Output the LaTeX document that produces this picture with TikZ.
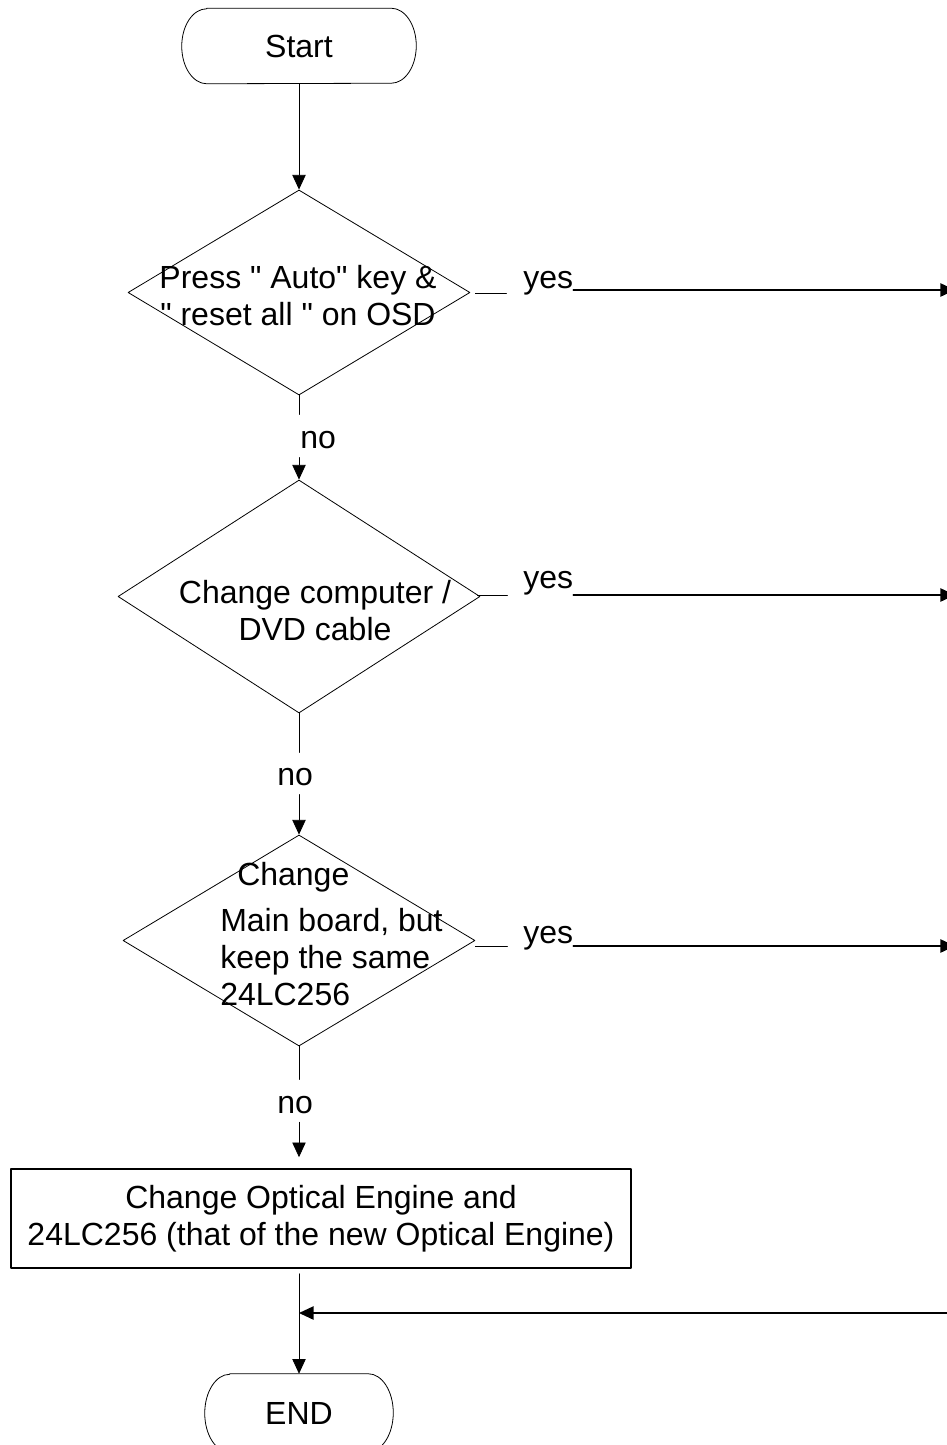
\documentclass[tikz,border=0pt]{standalone}
\usepackage{fontspec}
\newfontfamily\lsans{Liberation Sans}
\usetikzlibrary{shapes.geometric,arrows.meta}
% vien bo tron hai dau (dang elip)
\newcommand\capsule[2]{\draw[line width=.6pt] ([xshift=18.75pt]#1.north west) -- ([xshift=-18.75pt]#1.north east)
	arc[start angle=90,end angle=-90,x radius=18.75pt,y radius=#2]
	-- ([xshift=18.75pt]#1.south west)
	arc[start angle=270,end angle=90,x radius=18.75pt,y radius=#2] -- cycle;}
\begin{document}
\begin{tikzpicture}[x=.75pt,y=-.75pt,>={Triangle[length=11pt,width=10pt]},
	font=\lsans\fontsize{24}{27.75}\selectfont, line join=round, line cap=round,
	term/.style={inner sep=0pt},
	dec/.style={draw, line width=.6pt, diamond, inner sep=0pt},
	txt/.style={inner sep=0pt, align=center},
	lbl/.style={inner sep=0pt, anchor=base west},
	thinline/.style={line width=.6pt},
	thickline/.style={line width=1.2pt}]
	\useasboundingbox (0,0) rectangle (946,1445);
	%Khung bắt đầu và kết thúc
	\node[term, minimum width=175.5pt, minimum height=56.25pt] (st) at (299,46) {Start};
	\node[term, minimum width=141pt, minimum height=58.5pt] (en) at (299,1413) {END};
	\capsule{st}{28.125pt}
	\capsule{en}{29.25pt}
	%Các ô điều kiện
	\node[dec, minimum width=256.5pt, minimum height=153.75pt] (d1) at (299,292.5) {};
	\node[dec, minimum width=271.5pt, minimum height=174.75pt] (d2) at (299,596.5) {};
	\node[dec, minimum width=264pt, minimum height=158.25pt] (d3) at (299,940.5) {};
	\node[txt, anchor=north] (t1) at (298,264.7) {Press " Auto" key \&\\" reset all " on OSD};
	\node[txt, anchor=north] (t2) at (315,579.7) {Change computer /\\DVD cable};
	\node[txt, align=left, anchor=north west] (t3) at (220,861.7) {\hspace*{12.75pt}Change\\[6.75pt]Main board, but\\keep the same\\24LC256};
	\node[draw, line width=1.2pt, minimum width=465pt, minimum height=74.25pt, align=center, inner sep=0pt] (box) at (321,1218.5) {Change Optical Engine and\\24LC256 (that of the new Optical Engine)};
	%Nhánh yes
	\coordinate (o1) at (955,290);
	\coordinate (o2) at (955,595);
	\coordinate (o3) at (955,946);
	\node[lbl] (y1) at (523,288) {yes};
	\node[lbl] (y2) at (523,588) {yes};
	\node[lbl] (y3) at (523,943) {yes};
	\draw[thinline] (d1.east) ++(5,0.5) -- ++(31,0);
	\draw[thinline] (d2.east) ++(-3,-1.5) -- ++(30,0);
	\draw[thinline] (d3.east) ++(0,5.5) -- ++(32,0);
	\draw[thickline,->] (y1.base east) ++(0,2) -- (o1);
	\draw[thickline,->] (y2.base east) ++(0,7) -- (o2);
	\draw[thickline,->] (y3.base east) ++(0,3) -- (o3);
	%Nhánh no
	\node[lbl] (n1) at (300,448) {no};
	\node[lbl] (n2) at (277,785) {no};
	\node[lbl] (n3) at (277,1113) {no};
	\draw[thinline,->] (st) -- (d1);
	\draw[thinline] (d1.south) -- ++(0,19);
	\draw[thinline,->] (d2.north) ++(0,-22) -- (d2.north);
	\draw[thinline] (d2.south) -- ++(0,39);
	\draw[thinline,->] (d3.north) ++(0,-40) -- (d3.north);
	\draw[thinline] (d3.south) -- ++(0,33);
	\draw[thinline,->] (box.north -| d3.south) ++(0,-46) -- ++(0,35);
	\draw[thinline,->] (box.south -| en.north) ++(0,5) -- (en.north);
	%Đường quay về
	\coordinate (back) at (958,1313);
	\draw[thickline,->] (back) -- (back -| en.north);
\end{tikzpicture}
\end{document}
